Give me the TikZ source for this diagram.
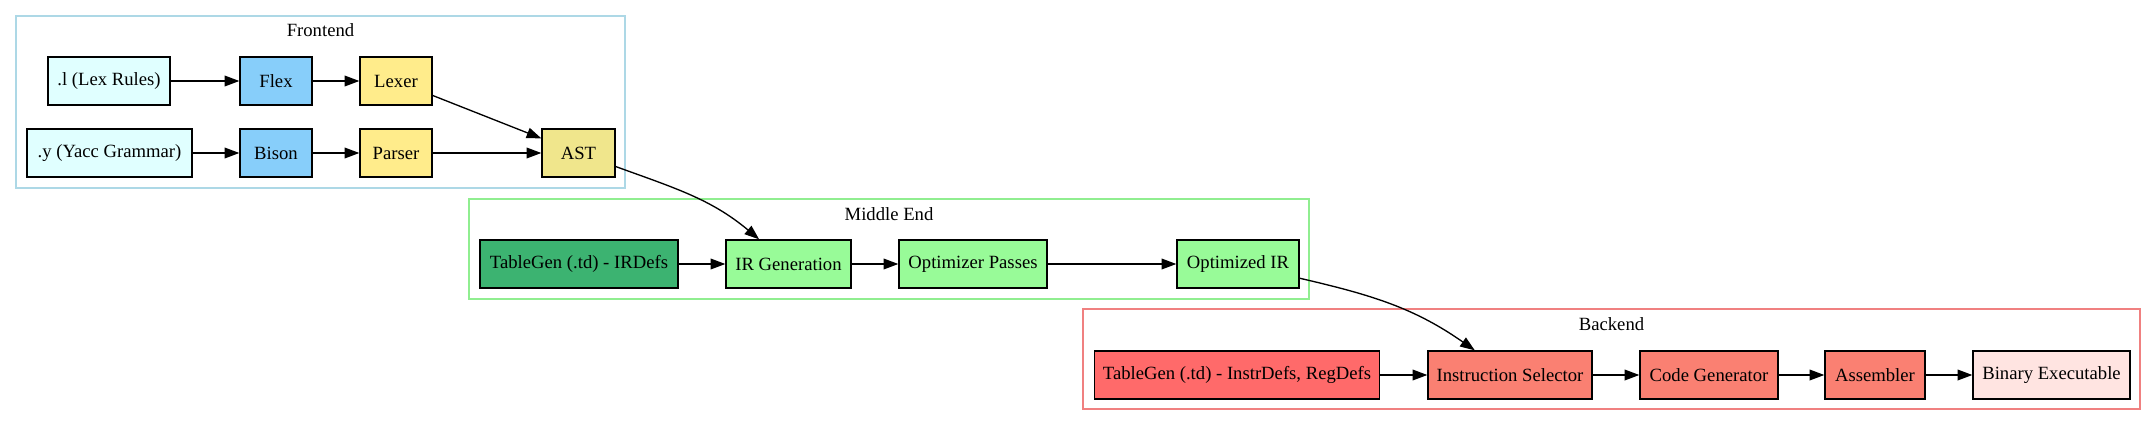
\documentclass[tikz,border=0pt]{standalone}
\usepackage{fontspec}
\setmainfont{Liberation Serif}
\usetikzlibrary{arrows.meta}

\definecolor{srcfill}{HTML}{E0FFFF}
\definecolor{toolfill}{HTML}{87CEFA}
\definecolor{genfill}{HTML}{FFEC8B}
\definecolor{astfill}{HTML}{F0E68C}
\definecolor{frontline}{HTML}{ADD8E6}
\definecolor{irdeffill}{HTML}{3CB371}
\definecolor{midfill}{HTML}{98FB98}
\definecolor{midline}{HTML}{90EE90}
\definecolor{tdfill}{HTML}{FF6A6A}
\definecolor{backfill}{HTML}{FA8072}
\definecolor{binfill}{HTML}{FFE4E1}
\definecolor{backline}{HTML}{F08080}

\tikzset{
  box/.style={rectangle, draw=black, line width=1pt, minimum height=36pt, inner sep=0pt},
  cluster/.style={rectangle, draw=#1, line width=1pt},
  edge/.style={line width=1pt, -{Triangle[length=11pt,width=8pt]}}
}

\begin{document}
\begin{tikzpicture}[x=0.75pt, y=0.75pt, font=\fontsize{14}{16}\selectfont]
  \useasboundingbox (0,0) rectangle (2156,-425);

  % clusters
  \node[cluster=frontline, minimum width=456.75pt, minimum height=129pt] (frontend) at (320.5,-102) {};
  \node (frontendlabel) at (320.5,-30) {Frontend};
  \node[cluster=midline, minimum width=630pt, minimum height=75pt] (middle) at (889,-249) {};
  \node (middlelabel) at (889,-214) {Middle End};
  \node[cluster=backline, minimum width=792.75pt, minimum height=75pt] (backend) at (1611.5,-359) {};
  \node (backendlabel) at (1611.5,-324) {Backend};

  % frontend
  \node[box, fill=srcfill, minimum width=91.5pt] (lexrules) at (109,-81) {.l (Lex Rules)};
  \node[box, fill=toolfill, minimum width=54pt] (flex) at (276,-81) {Flex};
  \node[box, fill=genfill, minimum width=54pt] (lexer) at (396,-81) {Lexer};
  \node[box, fill=srcfill, minimum width=123.75pt] (yacc) at (109.5,-153) {.y (Yacc Grammar)};
  \node[box, fill=toolfill, minimum width=54pt] (bison) at (276,-153) {Bison};
  \node[box, fill=genfill, minimum width=54pt] (parser) at (396,-153) {Parser};
  \node[box, fill=astfill, minimum width=54.75pt] (ast) at (578.5,-153) {AST};

  % middle end
  \node[box, fill=irdeffill, minimum width=148.5pt] (irdefs) at (579,-264) {TableGen (.td) - IRDefs};
  \node[box, fill=midfill, minimum width=93.75pt] (irgen) at (788.5,-264) {IR Generation};
  \node[box, fill=midfill, minimum width=111pt] (optpass) at (973,-264) {Optimizer Passes};
  \node[box, fill=midfill, minimum width=91.5pt] (optir) at (1238,-264) {Optimized IR};

  % backend
  \node[box, fill=tdfill, minimum width=213.75pt] (instrdefs) at (1237,-375) {TableGen (.td) - InstrDefs, RegDefs};
  \node[box, fill=backfill, minimum width=123pt] (isel) at (1510,-375) {Instruction Selector};
  \node[box, fill=backfill, minimum width=103.5pt] (codegen) at (1709,-375) {Code Generator};
  \node[box, fill=backfill, minimum width=75pt] (asm) at (1875,-375) {Assembler};
  \node[box, fill=binfill, minimum width=117.75pt] (binary) at (2051.5,-375) {Binary Executable};

  \foreach \a/\b in {lexrules/flex, flex/lexer, lexer/ast, yacc/bison, bison/parser, parser/ast,
                     irdefs/irgen, irgen/optpass, optpass/optir,
                     instrdefs/isel, isel/codegen, codegen/asm, asm/binary}{
    \draw[edge] (\a) -- (\b);
  }
  \draw[edge] (ast) to[out=-20, in=140] (irgen);
  \draw[edge] (optir) to[out=-13, in=145] (isel);
\end{tikzpicture}
\end{document}
